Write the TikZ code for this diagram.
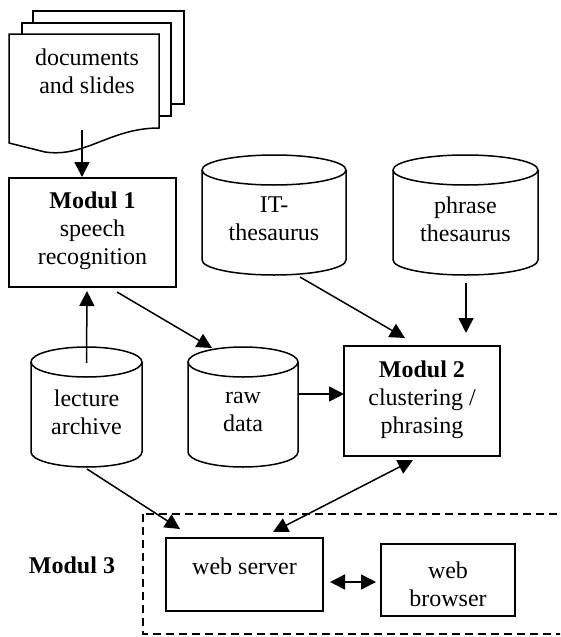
\documentclass[tikz,border=0pt]{standalone}
\usepackage{fontspec}
\setmainfont{Liberation Serif}
\usetikzlibrary{arrows.meta}
\tikzset{
  every node/.style={font=\fontsize{24}{28}\selectfont, align=center},
  ln/.style={line width=1.5pt},
  arr/.style={ln, -{Triangle[length=15pt,width=15pt]}},
  darr/.style={ln, {Triangle[length=15pt,width=15pt]}-{Triangle[length=15pt,width=15pt]}},
  boxnode/.style={draw, ln, rectangle, inner sep=0pt},
  txt/.style={inner sep=0pt},
  sheet/.style={draw, ln, fill=white, line join=miter}
}
\newcommand{\mycyl}[4]{%
  % #1 cx, #2 half width, #3 top y, #4 bottom y
  \draw[ln, fill=white] (#1-#2,#3) -- (#1-#2,#4) arc[start angle=180, end angle=0, x radius=#2, y radius=15] -- (#1+#2,#3);
  \draw[ln] (#1,#3) ellipse [x radius=#2, y radius=15];
}
\begin{document}
\begin{tikzpicture}[x=1pt,y=-1pt]
\useasboundingbox (0,0) rectangle (560,637);
\clip (0,0) rectangle (560,637);
\fill[white] (0,0) rectangle (560,637);

% documents stack
\draw[sheet] (33,11) rectangle (184,104);
\draw[sheet] (22,23) rectangle (171,116);
\draw[sheet] (9,34) -- (159,34) -- (159,128) .. controls (110,128) and (85,158) .. (45,152) -- (9,143) -- cycle;
\node[txt] (docs) at (87,71.5) {documents\\and slides};
\coordinate (docb) at (82,130);

% Modul 1
\node[boxnode, minimum width=167pt, minimum height=109pt] (m1) at (92.5,232.5) {};
\node[txt] (m1t) at (92.5,231) {\textbf{Modul 1}\\speech\\recognition};

% cylinders
\mycyl{274}{72}{170}{260}
\node[txt] (it) at (274,219) {IT-\\thesaurus};
\mycyl{465.5}{72.5}{170}{260}
\node[txt] (ph) at (465.5,219) {phrase\\thesaurus};
\mycyl{86.5}{55.5}{362}{452}
\node[txt] (la) at (86.5,412) {lecture\\archive};
\mycyl{243}{55}{362}{452}
\node[txt] (rd) at (243,412) {raw\\data};

% Modul 2
\node[boxnode, minimum width=156pt, minimum height=110pt] (m2) at (422,401) {};
\node[txt] (m2t) at (422,400) {\textbf{Modul 2}\\clustering /\\phrasing};

% Modul 3 region
\draw[ln, dash pattern=on 8pt off 5pt] (143,514) rectangle (620,634);
\node[txt] (m3) at (72,565) {\textbf{Modul 3}};
\node[boxnode, minimum width=157pt, minimum height=73pt] (ws) at (244.5,574.5) {};
\node[txt] (wst) at (244.5,566) {web server};
\node[boxnode, minimum width=134pt, minimum height=72pt] (wb) at (448,580) {};
\node[txt] (wbt) at (448,584) {web\\browser};

% connection points
\coordinate (latop) at (86.5,363);
\coordinate (labot) at (87,469);
\coordinate (m1out) at (117,292);
\coordinate (rdin) at (212,348);
\coordinate (itout) at (300,277);
\coordinate (m2inA) at (405,338);
\coordinate (phout) at (466,283);
\coordinate (m2inB) at (466,333);
\coordinate (rdout) at (299,394);
\coordinate (m2inC) at (344,394);
\coordinate (wsinA) at (180,529);
\coordinate (m2out) at (413,460);
\coordinate (wsinB) at (273,532);
\coordinate (wsR) at (330,582);
\coordinate (wbL) at (376,582);
\coordinate (m1in) at (82,177);
\coordinate (m1bot) at (87,291);

% connectors
\draw[arr] (docb) -- (m1in);
\draw[arr] (latop) -- (m1bot);
\draw[arr] (m1out) -- (rdin);
\draw[arr] (itout) -- (m2inA);
\draw[arr] (phout) -- (m2inB);
\draw[arr] (rdout) -- (m2inC);
\draw[arr] (labot) -- (wsinA);
\draw[darr] (m2out) -- (wsinB);
\draw[darr] (wsR) -- (wbL);
\end{tikzpicture}
\end{document}
